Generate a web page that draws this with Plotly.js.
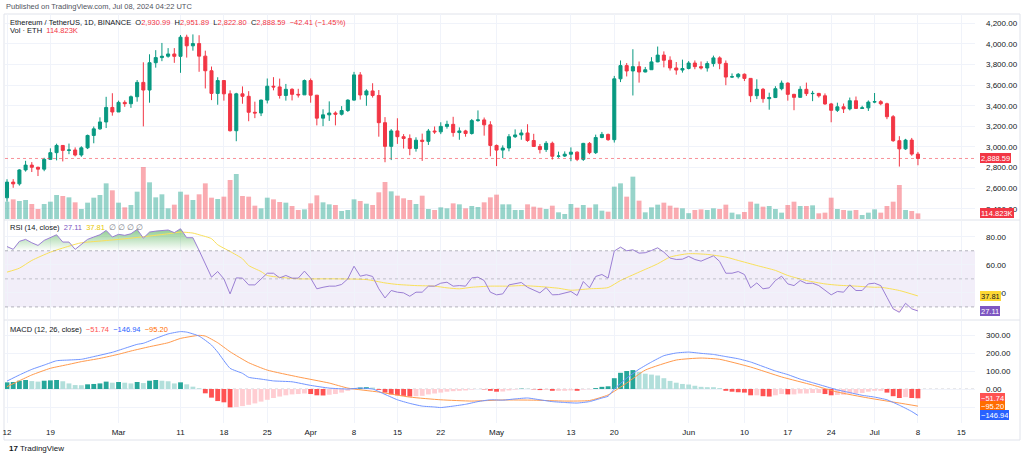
<!DOCTYPE html>
<html>
<head>
<meta charset="utf-8">
<script src="https://cdn.plot.ly/plotly-3.0.1.min.js"></script>
<style>
html,body{margin:0;padding:0;background:#fff;}
#chart{width:1024px;height:457px;}
</style>
</head>
<body>
<div id="chart"></div>
<script>
// ---------------- DATA ----------------
const firstDay = '2024-02-12';
const opens = [2507,2659,2642,2777,2824,2803,2785,2880,2945,3015,2967,2971,2922,2992,3112,3176,3243,3384,3340,3433,3420,3488,3627,3553,3818,3868,3881,3903,3880,4066,3982,4004,3882,3740,3520,3645,3516,3158,3516,3492,3337,3330,3455,3590,3583,3500,3560,3511,3506,3645,3503,3280,3312,3330,3318,3354,3455,3700,3505,3544,3500,3236,3006,3156,3100,3083,2985,3066,3055,3155,3147,3200,3220,3140,3156,3131,3256,3263,3215,3015,2970,2990,3100,3117,3136,3063,3005,2975,3036,2910,2912,2930,2950,2880,3035,2945,3092,3122,3071,3662,3790,3738,3780,3728,3750,3826,3892,3842,3767,3747,3762,3815,3780,3767,3810,3865,3812,3679,3682,3706,3666,3498,3560,3469,3480,3566,3620,3511,3482,3560,3518,3520,3497,3418,3356,3390,3370,3449,3374,3380,3436,3440,3420,3294,3061,2982,3067,2930.99];
const highs = [2687,2688,2784,2866,2853,2809,2895,2987,3032,3016,3033,2996,3007,3120,3199,3288,3487,3522,3450,3453,3500,3650,3822,3900,3940,4010,3960,3960,4087,4090,4093,4085,3935,3781,3677,3646,3550,3526,3588,3542,3440,3460,3665,3678,3664,3612,3570,3565,3655,3665,3505,3366,3443,3346,3397,3463,3729,3727,3560,3619,3553,3290,3174,3279,3125,3122,3094,3130,3175,3199,3240,3255,3293,3190,3167,3272,3355,3286,3250,3024,3016,3125,3171,3170,3221,3128,3029,3057,3052,2955,2957,2996,2957,3040,3048,3120,3146,3130,3690,3840,3815,3949,3830,3777,3872,3975,3928,3880,3825,3848,3834,3840,3830,3832,3887,3880,3840,3714,3718,3714,3667,3657,3573,3527,3590,3645,3628,3516,3590,3625,3545,3525,3520,3428,3430,3422,3480,3490,3400,3452,3524,3455,3430,3310,3105,3079,3088,2951.89];
const lows = [2470,2604,2625,2761,2757,2718,2765,2877,2870,2860,2930,2909,2905,2980,3036,3167,3184,3304,3340,3390,3380,3440,3200,3430,3770,3833,3867,3817,3720,3868,3935,3730,3568,3455,3410,3450,3150,3056,3420,3250,3280,3300,3423,3550,3470,3450,3452,3480,3505,3430,3210,3202,3253,3210,3306,3340,3450,3460,3400,3480,3100,2852,2873,3030,2985,2920,2955,2865,3020,3127,3125,3178,3100,3070,3100,3120,3245,3110,2910,2815,2892,2958,3087,3070,3050,3000,2937,2952,2878,2895,2903,2862,2863,2865,2930,2932,3085,3060,3043,3630,3685,3500,3625,3725,3750,3823,3773,3742,3702,3722,3753,3755,3752,3732,3780,3755,3600,3670,3665,3640,3435,3465,3430,3362,3475,3550,3450,3357,3480,3495,3445,3480,3410,3240,3340,3330,3355,3375,3370,3350,3425,3405,3270,3050,2810,2972,2915,2822.80];
const closes = [2659,2642,2777,2824,2803,2785,2880,2945,3015,2967,2971,2922,2992,3112,3176,3243,3384,3340,3433,3420,3488,3627,3553,3818,3868,3881,3903,3880,4066,3982,4004,3882,3740,3520,3645,3516,3158,3516,3492,3337,3330,3455,3590,3583,3500,3560,3511,3506,3645,3503,3280,3312,3330,3318,3354,3455,3700,3505,3544,3500,3236,3006,3156,3100,3083,2985,3066,3055,3155,3147,3200,3220,3140,3156,3131,3256,3263,3215,3015,2970,2990,3100,3117,3136,3063,3005,2975,3036,2910,2912,2930,2950,2880,3035,2945,3092,3122,3071,3662,3790,3738,3780,3728,3750,3826,3892,3842,3767,3747,3762,3815,3780,3767,3810,3865,3812,3679,3682,3706,3666,3498,3560,3469,3480,3566,3620,3511,3482,3560,3518,3520,3497,3418,3356,3390,3370,3449,3374,3380,3436,3440,3420,3294,3061,2982,3067,2931,2888.59];
// volume in thousands of ETH
const volumesK = [355,403,369,390,307,205,307,355,492,471,444,342,205,335,437,492,731,588,335,239,287,560,1066,752,444,506,219,294,560,499,390,506,731,437,410,458,800,923,471,458,273,219,437,403,349,335,267,185,198,321,485,342,301,287,164,185,403,369,314,287,547,758,567,478,424,390,307,478,205,185,239,219,321,301,219,267,246,342,444,499,301,301,185,185,301,253,232,205,273,137,103,307,232,287,232,301,171,150,663,731,458,868,376,137,239,294,335,273,232,219,120,185,198,185,219,205,294,130,96,144,355,314,253,267,205,130,287,355,267,267,280,116,130,437,205,185,171,185,82,130,198,130,267,355,697,185,164,114.823];
const rsi = [73.0,71.0,76.7,78.1,75.7,73.8,77.4,79.3,81.4,76.2,76.2,71.0,74.3,78.1,79.8,81.4,84.5,79.8,81.7,81.0,82.1,85.2,79.0,83.3,84.0,84.5,84.8,82.9,85.7,79.3,79.3,70.2,60.7,51.2,55.2,50.0,39.3,50.7,50.5,45.7,45.7,50.0,54.0,54.0,50.7,52.4,50.5,50.5,55.5,50.5,42.9,44.0,44.8,44.8,46.0,50.0,59.0,51.9,52.9,51.7,42.9,36.4,41.7,40.5,40.0,37.6,40.5,40.5,44.8,44.8,46.9,47.6,44.8,45.2,44.8,50.7,51.2,48.8,40.5,38.6,39.3,45.7,46.7,47.4,44.0,41.7,40.0,43.8,38.6,38.8,39.8,41.0,38.1,48.1,43.6,51.7,53.1,50.5,69.8,72.6,70.0,70.7,68.3,68.6,70.2,72.1,69.0,64.8,63.8,64.0,66.0,63.8,62.6,64.3,66.4,62.4,54.0,54.0,55.2,53.1,43.6,47.1,42.9,43.6,48.8,51.9,46.4,45.2,48.8,46.7,46.9,45.2,41.7,38.6,41.0,40.5,45.7,41.7,41.7,46.4,46.9,45.2,36.9,28.6,26.2,32.6,28.6,27.11];
const rsiMaDays = [0,2,4,7,10,12,15,18,20,23,26,28,30,31,33,34,36,38,39,41,42,45,47,53,58,61,63,66,69,71,73,75,78,81,83,86,89,91,94,97,99,102,105,107,110,113,116,118,121,124,126,129,132,134,137,140,141,144,147];
const rsiMaVals = [54.8,57.6,63.1,69,73.3,75.7,76.9,78.1,79,80.5,82.1,83.3,82.6,81.4,78.6,74.3,69.5,64.3,59.5,55.2,52.4,50.7,50,50,49.5,47.1,46,45.2,44.8,43.6,42.9,44,44.8,44.8,45.2,44.5,43.3,41.9,42.9,43.8,48.8,54.8,60.7,65.5,67.9,67.4,65.5,63.1,59.5,56,52.4,48.8,46.4,45.5,44.8,44,44,41.7,37.81];
const macdDays = [0,2,4,6,8,10,12,14,17,19,21,22,24,26,28,29,31,33,34,36,38,39,41,43,46,49,52,55,57,59,61,63,65,67,69,70,72,74,76,78,80,82,84,86,88,90,92,94,96,97,98,100,102,104,106,108,110,112,114,116,118,120,122,124,126,128,130,132,134,136,138,140,142,144,146,147];
const macdVals = [44,78,109,133,157,161,165,180,204,226,248,254,281,306,319,316,294,244,205,115,87,65,55,45,40,20,5,0,5,0,-30,-60,-80,-95,-100,-103,-95,-85,-70,-60,-62,-55,-50,-60,-70,-75,-78,-70,-50,-40,0,60,110,150,185,200,205,198,192,180,168,150,125,100,80,55,35,15,-5,-20,-35,-45,-60,-90,-125,-146.94];
const signalDays = [0,2,4,7,10,12,15,18,20,23,26,28,31,32,34,36,39,42,47,52,55,60,65,70,75,80,85,90,94,97,100,103,108,112,115,120,125,130,134,139,144,147];
const signalVals = [13,46,78,115,137,152,170,193,211,235,257,281,298,294,257,207,146,105,67,33,5,-17,-45,-60,-67,-61,-62,-67,-64,-33,33,105,161,172,165,122,67,22,-17,-50,-78,-95.20];
const histVals = [37,39,46,50,44,41,46,48,50,43,31,22,21,26,28,31,41,35,39,35,31,39,33,46,50,46,43,31,37,26,13,4,-24,-48,-67,-74,-102,-100,-95,-88,-80,-70,-60,-50,-42,-35,-30,-28,-25,-28,-35,-36,-32,-28,-20,-10,5,8,10,8,-5,-20,-30,-35,-38,-42,-40,-38,-30,-25,-20,-15,-12,-10,-8,-3,0,-2,-10,-15,-14,-8,-3,2,2,-2,-6,-5,-10,-10,-10,-8,-10,-3,-2,5,12,15,60,90,100,105,95,85,80,75,60,45,35,28,25,18,12,10,10,5,-10,-15,-18,-20,-35,-35,-40,-42,-35,-28,-30,-30,-25,-25,-22,-22,-28,-35,-33,-32,-25,-25,-22,-15,-10,-10,-20,-40,-50,-45,-50,-51.74];
const priceTicks = [2400,2600,2800,3000,3200,3400,3600,3800,4000,4200];
const rsiTicks = [40,60,80];
const macdTicks = [-100,0,100,200,300];
const timeTickDates = ['2024-02-12','2024-02-19','2024-03-01','2024-03-11','2024-03-18','2024-03-25','2024-04-01','2024-04-08','2024-04-15','2024-04-22','2024-05-01','2024-05-13','2024-05-20','2024-06-01','2024-06-10','2024-06-17','2024-06-24','2024-07-01','2024-07-08','2024-07-15'];
const timeTickText = ['12','19','Mar','11','18','25','Apr','8','15','22','May','13','20','Jun','10','17','24','Jul','8','15'];

// ---------------- HELPERS ----------------
const W = 1024, H = 457;
const px = x => x / W;
const py = y => 1 - y / H;
const FONT = '"Liberation Sans", Arial, sans-serif';
const DAY = 86400000;
function dayDate(i){ const d = new Date(Date.parse(firstDay + 'T00:00:00Z') + i * DAY); return d.toISOString().slice(0,10); }
const dates = closes.map((_, i) => dayDate(i));
const fmt2 = v => v.toLocaleString('en-US', {minimumFractionDigits:2, maximumFractionDigits:2});
const sgn = v => (v < 0 ? '\u2212' + fmt2(-v) : fmt2(v));

const UP = '#089981', DOWN = '#F23645';
const volColors = closes.map((c, i) => c >= opens[i] ? 'rgba(8,153,129,0.42)' : 'rgba(242,54,69,0.42)');
const histColors = histVals.map((v, i) => {
  const prev = i > 0 ? histVals[i-1] : -Infinity;
  if (v >= 0) return v > prev ? '#26A69A' : '#B2DFDB';
  const p2 = i > 0 ? histVals[i-1] : 0;
  return v < p2 ? '#FF5252' : '#FFCDD2';
});

const traces = [];
// volume (overlay)
traces.push({type:'bar', x:dates, y:volumesK, marker:{color:volColors, line:{width:0}}, width:DAY*0.78, xaxis:'x', yaxis:'y2', hoverinfo:'skip'});
// candles
traces.push({type:'candlestick', x:dates, open:opens, high:highs, low:lows, close:closes,
  increasing:{line:{color:UP, width:1}, fillcolor:UP}, decreasing:{line:{color:DOWN, width:1}, fillcolor:DOWN},
  whiskerwidth:0, xaxis:'x', yaxis:'y', hoverinfo:'skip'});
// RSI overbought fill
traces.push({type:'scatter', mode:'lines', x:dates, y:rsi.map(() => 70), line:{width:0, color:'rgba(0,0,0,0)'}, xaxis:'x', yaxis:'y3', hoverinfo:'skip'});
traces.push({type:'scatter', mode:'lines', x:dates, y:rsi.map(v => Math.max(v, 70)), line:{width:0, color:'rgba(0,0,0,0)'}, fill:'tonexty',
  fillcolor:'rgba(76,175,80,0.3)',
  fillgradient:{type:'vertical', start:70, stop:88, colorscale:[[0,'rgba(76,175,80,0)'],[1,'rgba(76,175,80,0.75)']]},
  xaxis:'x', yaxis:'y3', hoverinfo:'skip'});
// RSI oversold fill
traces.push({type:'scatter', mode:'lines', x:dates, y:rsi.map(() => 30), line:{width:0, color:'rgba(0,0,0,0)'}, xaxis:'x', yaxis:'y3', hoverinfo:'skip'});
traces.push({type:'scatter', mode:'lines', x:dates, y:rsi.map(v => Math.min(v, 30)), line:{width:0, color:'rgba(0,0,0,0)'}, fill:'tonexty',
  fillcolor:'rgba(242,54,69,0.15)',
  fillgradient:{type:'vertical', start:30, stop:15, colorscale:[[0,'rgba(242,54,69,0)'],[1,'rgba(242,54,69,0.6)']]},
  xaxis:'x', yaxis:'y3', hoverinfo:'skip'});
// RSI MA + RSI
traces.push({type:'scatter', mode:'lines', x:rsiMaDays.map(dayDate), y:rsiMaVals, line:{color:'#F9E05A', width:1, shape:'spline', smoothing:0.6}, xaxis:'x', yaxis:'y3', hoverinfo:'skip'});
traces.push({type:'scatter', mode:'lines', x:dates, y:rsi, line:{color:'#9B7FD4', width:1}, xaxis:'x', yaxis:'y3', hoverinfo:'skip'});
// MACD
traces.push({type:'bar', x:dates, y:histVals, marker:{color:histColors, line:{width:0}}, width:DAY*0.78, xaxis:'x', yaxis:'y4', hoverinfo:'skip'});
traces.push({type:'scatter', mode:'lines', x:signalDays.map(dayDate), y:signalVals, line:{color:'#FF9A4D', width:1, shape:'spline', smoothing:0.5}, xaxis:'x', yaxis:'y4', hoverinfo:'skip'});
traces.push({type:'scatter', mode:'lines', x:macdDays.map(dayDate), y:macdVals, line:{color:'#7094FF', width:1, shape:'spline', smoothing:0.5}, xaxis:'x', yaxis:'y4', hoverinfo:'skip'});

const last = closes.length - 1;
const chg = closes[last] - closes[last-1];
const chgPct = chg / closes[last-1] * 100;
const NB = '\u00A0';
const red = s => '<span style="color:#F23645">' + s + '</span>';
const headerText = 'Ethereum / TetherUS, 1D, BINANCE' + NB + NB +
  'O' + red(fmt2(opens[last])) + NB + NB + 'H' + red(fmt2(highs[last])) + NB + NB +
  'L' + red(fmt2(lows[last])) + NB + NB + 'C' + red(fmt2(closes[last])) + NB + NB +
  red(sgn(chg) + ' (' + sgn(chgPct) + '%)');
const volText = 'Vol \u00B7 ETH' + NB + NB + red(volumesK[last].toFixed(3) + 'K');
const rsiMaLast = rsiMaVals[rsiMaVals.length-1];
const rsiText = 'RSI (14, close)' + NB + NB + '<span style="color:#7E57C2">' + fmt2(rsi[last]) + '</span>' + NB + NB +
  '<span style="color:#E8C800">' + fmt2(rsiMaLast) + '</span>' + NB + NB + '<span style="color:#787B86">\u2205' + NB + '\u2205' + NB + '\u2205' + NB + '\u2205</span>';
const macdLast = macdVals[macdVals.length-1], sigLast = signalVals[signalVals.length-1], histLast = histVals[last];
const macdText = 'MACD (12, 26, close)' + NB + NB + '<span style="color:#FF5252">' + sgn(histLast) + '</span>' + NB + NB +
  '<span style="color:#2962FF">' + sgn(macdLast) + '</span>' + NB + NB + '<span style="color:#FF6D00">' + sgn(sigLast) + '</span>';

function tag(y, yref, text, bg, fg){
  return {xref:'paper', x:px(980), xanchor:'left', yref:yref, y:y, yanchor:'middle', text:text, showarrow:false,
    bgcolor:bg, bordercolor:bg, borderpad:0, height:8, align:'left', font:{size:7.5, color:fg||'#fff', family:FONT}};
}
const ann = [
  {xref:'paper', yref:'paper', x:px(4), y:py(7), xanchor:'left', yanchor:'middle', showarrow:false, text:'Published on TradingView.com, Jul 08, 2024 04:22 UTC', font:{size:7.5, color:'#50535E', family:FONT}},
  {xref:'paper', yref:'paper', x:px(8), y:py(22), xanchor:'left', yanchor:'middle', showarrow:false, text:headerText, font:{size:7.5, color:'#131722', family:FONT}},
  {xref:'paper', yref:'paper', x:px(8), y:py(31), xanchor:'left', yanchor:'middle', showarrow:false, text:volText, font:{size:7.5, color:'#131722', family:FONT}},
  {xref:'paper', yref:'paper', x:px(8), y:py(227), xanchor:'left', yanchor:'middle', showarrow:false, text:rsiText, font:{size:7.5, color:'#131722', family:FONT}},
  {xref:'paper', yref:'paper', x:px(8), y:py(329), xanchor:'left', yanchor:'middle', showarrow:false, text:macdText, font:{size:7.5, color:'#131722', family:FONT}},
  {xref:'paper', yref:'paper', x:px(7), y:py(448), xanchor:'left', yanchor:'middle', showarrow:false, text:'<b>17</b> TradingView', font:{size:8, color:'#131722', family:FONT}},
  tag(closes[last], 'y', fmt2(closes[last]), '#F23645'),
  tag(volumesK[last], 'y2', volumesK[last].toFixed(3) + 'K', '#F23645'),
  tag(rsiMaLast, 'y3', fmt2(rsiMaLast), '#FDD835', '#131722'),
  tag(rsi[last], 'y3', fmt2(rsi[last]), '#7E57C2'),
  tag(histLast, 'y4', sgn(histLast), '#FF5252'),
  tag(sigLast, 'y4', sgn(sigLast), '#FF6D00'),
  tag(macdLast, 'y4', sgn(macdLast), '#2962FF')
];

const X0 = px(5), X1 = px(975);
const shapes = [
  // frame
  {type:'rect', xref:'paper', yref:'paper', x0:px(4), x1:px(1020), y0:py(440), y1:py(14), line:{color:'#E0E3EB', width:1}, fillcolor:'rgba(0,0,0,0)', layer:'below'},
  {type:'line', xref:'paper', yref:'paper', x0:px(4), x1:px(1020), y0:py(220), y1:py(220), line:{color:'#E0E3EB', width:1}},
  {type:'line', xref:'paper', yref:'paper', x0:px(4), x1:px(1020), y0:py(320), y1:py(320), line:{color:'#E0E3EB', width:1}},
  // last price line
  {type:'line', xref:'paper', yref:'y', x0:X0, x1:X1, y0:closes[last], y1:closes[last], line:{color:'rgba(242,54,69,0.55)', width:1, dash:'dot'}},
  // RSI band
  {type:'rect', xref:'paper', yref:'y3', x0:X0, x1:X1, y0:30, y1:70, fillcolor:'rgba(126,87,194,0.1)', line:{width:0}, layer:'below'},
  {type:'line', xref:'paper', yref:'y3', x0:X0, x1:X1, y0:70, y1:70, line:{color:'rgba(120,123,134,0.55)', width:1, dash:'3px,3px'}},
  {type:'line', xref:'paper', yref:'y3', x0:X0, x1:X1, y0:50, y1:50, line:{color:'rgba(120,123,134,0.4)', width:1, dash:'3px,3px'}},
  {type:'line', xref:'paper', yref:'y3', x0:X0, x1:X1, y0:30, y1:30, line:{color:'rgba(120,123,134,0.55)', width:1, dash:'3px,3px'}},
  // MACD zero
  {type:'line', xref:'paper', yref:'y4', x0:X0, x1:X1, y0:0, y1:0, line:{color:'rgba(120,123,134,0.35)', width:1, dash:'3px,3px'}, layer:'below'}
];

const gridColor = '#F0F3FA';
const yBase = {side:'right', anchor:'x', tickmode:'array', showgrid:true, gridcolor:gridColor, gridwidth:1, zeroline:false, showline:false,
  ticks:'', ticklabelstandoff:10, tickfont:{size:8, color:'#131722', family:FONT}, fixedrange:true};

const layout = {
  width:W, height:H, margin:{l:0, r:0, t:0, b:0}, paper_bgcolor:'#FFFFFF', plot_bgcolor:'rgba(0,0,0,0)',
  showlegend:false, hovermode:false, dragmode:false, font:{family:FONT, size:8, color:'#131722'},
  xaxis:{type:'date', domain:[X0, X1], range:['2024-02-11 16:15', '2024-07-17 05:00'], anchor:'y4',
    tickmode:'array', tickvals:timeTickDates, ticktext:timeTickText, showgrid:true, gridcolor:gridColor, gridwidth:1,
    zeroline:false, showline:false, ticks:'', ticklabelstandoff:3, tickfont:{size:8, color:'#131722', family:FONT},
    rangeslider:{visible:false}, fixedrange:true},
  yaxis:Object.assign({}, yBase, {domain:[py(219), py(14)], range:[2301, 4291], tickvals:priceTicks, ticktext:priceTicks.map(fmt2)}),
  yaxis2:{overlaying:'y', anchor:'x', range:[0, 4202], visible:false, showgrid:false, fixedrange:true},
  yaxis3:Object.assign({}, yBase, {domain:[py(319), py(221)], range:[21.4, 91.2], tickvals:rsiTicks, ticktext:rsiTicks.map(fmt2)}),
  yaxis4:Object.assign({}, yBase, {domain:[py(423), py(321)], range:[-188.9, 377.8], tickvals:macdTicks, ticktext:macdTicks.map(v => v < 0 ? '' : fmt2(v))}),
  bargap:0.2,
  annotations:ann,
  shapes:shapes
};

Plotly.newPlot('chart', traces, layout, {staticPlot:true, displayModeBar:false});
</script>
</body>
</html>
